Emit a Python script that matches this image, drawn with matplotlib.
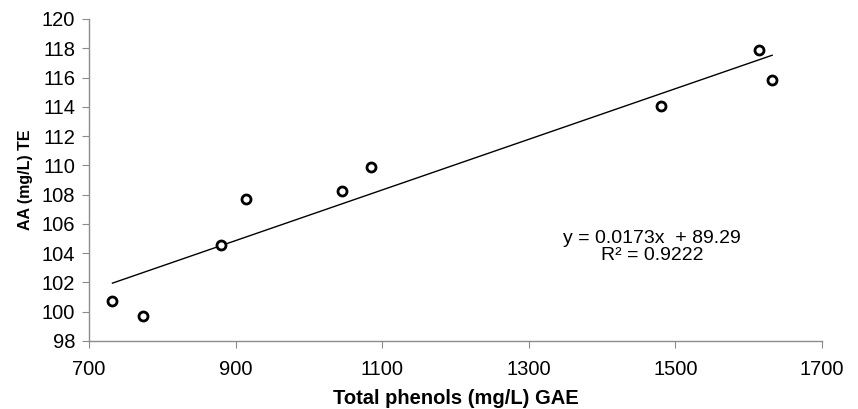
import matplotlib
matplotlib.use("Agg")
import matplotlib.pyplot as plt
import numpy as np

plt.rcParams['font.family'] = ['Liberation Sans Narrow', 'Liberation Sans', 'DejaVu Sans']

# data
phenols = [732, 773, 880, 914, 1045, 1085, 1481, 1614, 1632]
aa_te = [100.75, 99.7, 104.55, 107.7, 108.25, 109.9, 114.05, 117.85, 115.85]

slope = 0.0173
intercept = 89.29
r2 = 0.9222

x_ticks = [700, 900, 1100, 1300, 1500, 1700]
y_ticks = list(range(98, 121, 2))

fig = plt.figure(figsize=(8.58, 4.09), dpi=100)
ax = fig.add_axes([89 / 858, 1 - 341 / 409, (822 - 89) / 858, (341 - 19) / 409])

# trendline over the data range
xs = np.array([min(phenols), max(phenols)])
ax.plot(xs, slope * xs + intercept, color='black', lw=1.0)

ax.plot(phenols, aa_te, linestyle='none', marker='o', markersize=6.5,
        markerfacecolor='white', markeredgecolor='black', markeredgewidth=2.0)

ax.set_xlim(700, 1700)
ax.set_ylim(98, 120)
ax.set_xticks(x_ticks)
ax.set_yticks(y_ticks)

for s in ['top', 'right']:
    ax.spines[s].set_visible(False)
for s in ['left', 'bottom']:
    ax.spines[s].set_color('#8c8c8c')
    ax.spines[s].set_linewidth(1.0)
ax.tick_params(direction='out', length=5, color='#8c8c8c', labelsize=14.5,
               labelcolor='black')
ax.tick_params(axis='x', pad=9)
ax.tick_params(axis='y', pad=5)

ax.set_xlabel('Total phenols (mg/L) GAE', fontsize=14.5, fontweight='bold', labelpad=7)
ax.set_ylabel('AA (mg/L) TE', fontsize=11.5, fontweight='bold', labelpad=6)

ax.text(1468, 104.4, 'y = 0.0173x  + 89.29\nR\u00b2 = 0.9222',
        ha='center', va='center', fontsize=14, linespacing=1.0)

fig.savefig('out.png', dpi=100)
